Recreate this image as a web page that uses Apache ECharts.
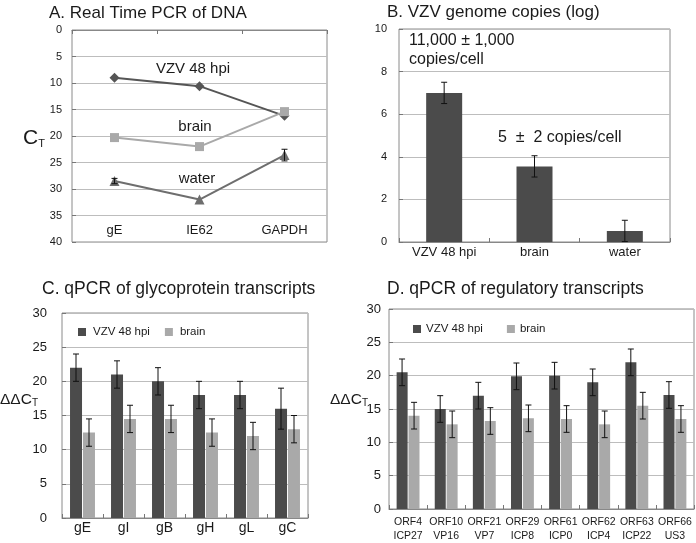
<!DOCTYPE html>
<html><head><meta charset="utf-8">
<script src="https://cdn.jsdelivr.net/npm/echarts@6/dist/echarts.min.js"></script>
<style>html,body{margin:0;padding:0;background:#fff}#c{width:696px;height:543px}</style>
</head><body><div id="c"></div>
<script>
// ---- Data ----
const catsA = ['gE', 'IE62', 'GAPDH'];
const ctVZV = [9, 10.6, 16.2];
const ctBrain = [20.3, 22, 15.4];
const ctWater = [28.5, 32, 23.6];
const ctWaterErr = [0.5, 0, 1.1];

const catsB = ['VZV 48 hpi', 'brain', 'water'];
const logCopies = [7, 3.55, 0.52];
const logCopiesErr = [0.5, 0.5, 0.5];

const catsC = ['gE', 'gI', 'gB', 'gH', 'gL', 'gC'];
const glyVZV = [22, 21, 20, 18, 18, 16];
const glyVZVErr = [2, 2, 2, 2, 2, 3];
const glyBrain = [12.5, 14.5, 14.5, 12.5, 12, 13];
const glyBrainErr = [2, 2, 2, 2, 2, 2];

const catsD = ['ORF4\nICP27', 'ORF10\nVP16', 'ORF21\nVP7', 'ORF29\nICP8', 'ORF61\nICP0', 'ORF62\nICP4', 'ORF63\nICP22', 'ORF66\nUS3'];
const regVZV = [20.5, 15, 17, 19.9, 20, 19, 22, 17.1];
const regVZVErr = [2, 2, 2, 2, 2, 2, 2, 2];
const regBrain = [14, 12.7, 13.2, 13.6, 13.5, 12.7, 15.5, 13.5];
const regBrainErr = [2, 2, 2, 2, 2, 2, 2, 2];

// ---- Styles ----
const FONT = 'Liberation Sans, Arial, sans-serif';
const DARK = '#4b4b4b', LIGHT = '#a9a9a9', MID = '#6e6e6e';
const TXT = '#1a1a1a';

function errData(vals, errs) { return vals.map((v, i) => [i, v - errs[i], v + errs[i]]); }
function errSeries(xi, yi, data, offset) {
  return {
    type: 'custom', xAxisIndex: xi, yAxisIndex: yi, data: data, z: 10,
    encode: { x: 0, y: [1, 2] }, silent: true,
    renderItem: function (params, api) {
      if (api.value(2) - api.value(1) === 0) return null;
      const lo = api.coord([api.value(0), api.value(1)]);
      const hi = api.coord([api.value(0), api.value(2)]);
      const x = lo[0] + offset, c = 3;
      const st = { stroke: '#111', lineWidth: 1 };
      return { type: 'group', children: [
        { type: 'line', shape: { x1: x, y1: lo[1], x2: x, y2: hi[1] }, style: st },
        { type: 'line', shape: { x1: x - c, y1: lo[1], x2: x + c, y2: lo[1] }, style: st },
        { type: 'line', shape: { x1: x - c, y1: hi[1], x2: x + c, y2: hi[1] }, style: st }
      ]};
    }
  };
}
function valAxis(gi, min, max, interval, fs, margin, inverse) {
  return { type: 'value', gridIndex: gi, min: min, max: max, interval: interval, inverse: !!inverse,
    axisLine: { show: false },
    axisTick: { show: true, inside: true, length: 4, lineStyle: { color: '#777' } },
    axisLabel: { fontFamily: FONT, fontSize: fs, color: TXT, margin: margin },
    splitLine: { lineStyle: { color: '#bdbdbd', width: 1 } } };
}
function catAxis(gi, cats, fs, margin, extra) {
  return Object.assign({ type: 'category', gridIndex: gi, data: cats,
    axisLine: { lineStyle: { color: '#888' } },
    axisTick: { show: true, inside: true, length: 4, lineStyle: { color: '#777' } },
    axisLabel: { fontFamily: FONT, fontSize: fs, color: TXT, margin: margin, interval: 0 } }, extra || {});
}
const gridStyle = { show: true, borderColor: '#8a8a8a', borderWidth: 1, backgroundColor: '#fff' };
const titleStyle = (fs) => ({ fontFamily: FONT, fontSize: fs, fontWeight: 'normal', color: TXT });
const legendItems = [{ name: 'VZV 48 hpi', icon: 'rect', itemStyle: { color: DARK } }, { name: 'brain', icon: 'rect', itemStyle: { color: LIGHT } }];

const chart = echarts.init(document.getElementById('c'), null, { renderer: 'canvas' });
const option = {
  animation: false,
  textStyle: { fontFamily: FONT },
  title: [
    { text: 'A. Real Time PCR of DNA', left: 44, top: 0, textStyle: titleStyle(17) },
    { text: 'B. VZV genome copies (log)', left: 382, top: -1, textStyle: titleStyle(17) },
    { text: 'C. qPCR of glycoprotein transcripts', left: 37, top: 275, textStyle: titleStyle(17.5) },
    { text: 'D. qPCR of regulatory transcripts', left: 382, top: 275, textStyle: titleStyle(17.5) }
  ],
  legend: [
    { left: 73, top: 321, itemWidth: 8, itemHeight: 8, itemGap: 15, textStyle: { fontFamily: FONT, fontSize: 11.5, color: TXT, padding: [0, 0, 0, 2] }, data: legendItems },
    { left: 408, top: 318, itemWidth: 8, itemHeight: 8, itemGap: 24, textStyle: { fontFamily: FONT, fontSize: 11.5, color: TXT }, data: legendItems }
  ],
  grid: [
    Object.assign({ left: 72, top: 30, width: 255, height: 212 }, gridStyle),
    Object.assign({ left: 399, top: 29, width: 271, height: 213 }, gridStyle),
    Object.assign({ left: 62, top: 313, width: 246, height: 205 }, gridStyle),
    Object.assign({ left: 389, top: 309, width: 305, height: 203 }, gridStyle)
  ],
  xAxis: [
    catAxis(0, catsA, 13, 8, { position: 'top', axisLabel: { show: false } }),
    catAxis(0, catsA, 13, 7, { position: 'bottom', axisLine: { show: false }, axisTick: { show: false },
      axisLabel: { inside: true, fontFamily: FONT, fontSize: 13, color: TXT, margin: 5 } }),
    catAxis(1, catsB, 13, 4),
    catAxis(2, catsC, 14, 3),
    catAxis(3, catsD, 10.5, 6, { axisLabel: { fontFamily: FONT, fontSize: 10.5, color: TXT, margin: 6, interval: 0, lineHeight: 14 } })
  ],
  yAxis: [
    valAxis(0, 0, 40, 5, 11, 10, true),
    valAxis(1, 0, 10, 2, 11, 12),
    valAxis(2, 0, 30, 5, 13, 15),
    valAxis(3, 0, 30, 5, 13, 8)
  ],
  series: [
    { name: 'VZV 48 hpi', type: 'line', xAxisIndex: 0, yAxisIndex: 0, data: ctVZV, symbol: 'diamond', symbolSize: 10,
      lineStyle: { color: '#555', width: 2 }, itemStyle: { color: '#555' } },
    { name: 'water', type: 'line', xAxisIndex: 0, yAxisIndex: 0, data: ctWater, symbol: 'triangle', symbolSize: 10,
      lineStyle: { color: MID, width: 2 }, itemStyle: { color: MID } },
    { name: 'brain', type: 'line', xAxisIndex: 0, yAxisIndex: 0, data: ctBrain, symbol: 'rect', symbolSize: 9,
      lineStyle: { color: LIGHT, width: 2 }, itemStyle: { color: LIGHT } },
    errSeries(0, 0, errData(ctWater, ctWaterErr), 0),

    { name: 'copies', type: 'bar', xAxisIndex: 2, yAxisIndex: 1, data: logCopies, barWidth: 36, itemStyle: { color: DARK } },
    errSeries(2, 1, errData(logCopies, logCopiesErr), 0),

    { name: 'VZV 48 hpi', type: 'bar', xAxisIndex: 3, yAxisIndex: 2, data: glyVZV, barWidth: 12, barGap: '8%', itemStyle: { color: DARK } },
    { name: 'brain', type: 'bar', xAxisIndex: 3, yAxisIndex: 2, data: glyBrain, barWidth: 12, barGap: '8%', itemStyle: { color: LIGHT } },
    errSeries(3, 2, errData(glyVZV, glyVZVErr), -6.5),
    errSeries(3, 2, errData(glyBrain, glyBrainErr), 6.5),

    { name: 'VZV 48 hpi', type: 'bar', xAxisIndex: 4, yAxisIndex: 3, data: regVZV, barWidth: 11, barGap: '8%', itemStyle: { color: DARK } },
    { name: 'brain', type: 'bar', xAxisIndex: 4, yAxisIndex: 3, data: regBrain, barWidth: 11, barGap: '8%', itemStyle: { color: LIGHT } },
    errSeries(4, 3, errData(regVZV, regVZVErr), -6),
    errSeries(4, 3, errData(regBrain, regBrainErr), 6)
  ],
  graphic: [
    { type: 'text', left: 23, top: 128, style: { text: '{c|C}{s|T}', rich: { c: { fontSize: 21, fontFamily: FONT, fill: TXT }, s: { fontSize: 11, fontFamily: FONT, fill: TXT, padding: [10, 0, 0, 0] } } } },
    { type: 'text', x: 193, y: 69, style: { text: 'VZV 48 hpi', fontSize: 15, fontFamily: FONT, fill: TXT, align: 'center', verticalAlign: 'middle' } },
    { type: 'text', x: 195, y: 127, style: { text: 'brain', fontSize: 15, fontFamily: FONT, fill: TXT, align: 'center', verticalAlign: 'middle' } },
    { type: 'text', x: 197, y: 179, style: { text: 'water', fontSize: 15, fontFamily: FONT, fill: TXT, align: 'center', verticalAlign: 'middle' } },
    { type: 'text', x: 409, y: 41, style: { text: '11,000 ± 1,000', fontSize: 16, fontFamily: FONT, fill: TXT, verticalAlign: 'middle' } },
    { type: 'text', x: 409, y: 60, style: { text: 'copies/cell', fontSize: 16, fontFamily: FONT, fill: TXT, verticalAlign: 'middle' } },
    { type: 'text', x: 498, y: 138, style: { text: '5  ±  2 copies/cell', fontSize: 16, fontFamily: FONT, fill: TXT, verticalAlign: 'middle' } },
    { type: 'text', left: 0, top: 392, style: { text: '{c|ΔΔC}{s|T}', rich: { c: { fontSize: 15.5, fontFamily: FONT, fill: TXT }, s: { fontSize: 10, fontFamily: FONT, fill: TXT, padding: [7, 0, 0, 0] } } } },
    { type: 'text', left: 330, top: 392, style: { text: '{c|ΔΔC}{s|T}', rich: { c: { fontSize: 15.5, fontFamily: FONT, fill: TXT }, s: { fontSize: 10, fontFamily: FONT, fill: TXT, padding: [7, 0, 0, 0] } } } }
  ]
};
chart.setOption(option);
</script>
</body></html>
